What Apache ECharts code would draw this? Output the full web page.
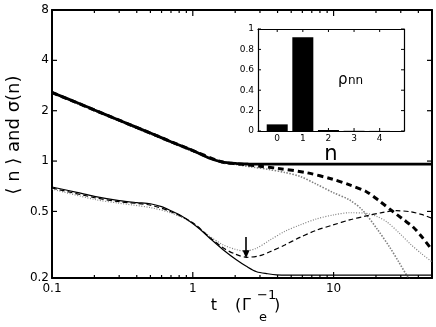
<!DOCTYPE html>
<html>
<head>
<meta charset="utf-8">
<script src="https://cdn.jsdelivr.net/npm/echarts@6/dist/echarts.min.js"></script>
<style>
html,body{margin:0;padding:0;background:#fff;}
#c{width:436px;height:327px;}
</style>
</head>
<body>
<div id="c"></div>
<script>
// ---- main plot data (t in 1/Gamma_e, values on log axis) ----
const tUpSolid  = [0.1, 0.15, 0.2, 0.3, 0.5, 0.7, 1.0, 1.3, 1.6, 2.0, 2.5, 3, 5, 10, 20, 50];
const vUpSolid  = [2.57, 2.24, 2.02, 1.755, 1.47, 1.305, 1.156, 1.043, 0.99, 0.968, 0.96, 0.958, 0.958, 0.958, 0.958, 0.958];

const tUpDash   = [0.1, 0.2, 0.5, 1.0, 1.6, 2.0, 2.5, 3, 4, 6.43, 9.9, 13, 17.1, 21, 26.5, 31, 36.5, 42, 50];
const vUpDash   = [2.57, 2.02, 1.47, 1.156, 0.99, 0.965, 0.948, 0.932, 0.905, 0.852, 0.778, 0.72, 0.656, 0.58, 0.498, 0.45, 0.405, 0.355, 0.295];

const tUpDot    = [0.1, 0.2, 0.5, 1.0, 1.6, 2.0, 2.68, 3.5, 4.5, 5.77, 7.5, 9.9, 13, 16, 20.5, 25, 29, 33, 34.5];
const vUpDot    = [2.55, 2.0, 1.45, 1.14, 0.98, 0.955, 0.92, 0.89, 0.855, 0.81, 0.73, 0.649, 0.585, 0.51, 0.39, 0.306, 0.25, 0.208, 0.198];

const tLowSolid = [0.1, 0.15, 0.2, 0.3, 0.4, 0.5, 0.6, 0.7, 0.81, 0.96, 1.13, 1.32, 1.65, 2.05, 2.4, 2.84, 3.4, 3.94, 6, 10, 20, 50];
const vLowSolid = [0.70, 0.65, 0.615, 0.58, 0.565, 0.556, 0.534, 0.505, 0.476, 0.434, 0.39, 0.346, 0.294, 0.256, 0.235, 0.218, 0.212, 0.209, 0.208, 0.208, 0.208, 0.208];

const tLowDash  = [0.1, 0.2, 0.3, 0.5, 0.7, 1.0, 1.32, 1.65, 2.0, 2.41, 3.0, 3.53, 4.5, 5.77, 7.5, 9.9, 13, 17.1, 22, 28, 35, 42, 50];
const vLowDash  = [0.69, 0.605, 0.572, 0.545, 0.498, 0.428, 0.35, 0.302, 0.278, 0.266, 0.272, 0.287, 0.315, 0.35, 0.385, 0.415, 0.445, 0.47, 0.492, 0.505, 0.498, 0.48, 0.455];

const tLowDot   = [0.1, 0.2, 0.3, 0.5, 0.7, 1.0, 1.32, 1.65, 2.0, 2.3, 2.8, 3.53, 4.5, 5.77, 7.5, 9.9, 13, 17.1, 20.5, 23.8, 29.4, 35, 42, 50];
const vLowDot   = [0.68, 0.59, 0.56, 0.527, 0.49, 0.425, 0.355, 0.315, 0.297, 0.29, 0.3, 0.337, 0.38, 0.415, 0.45, 0.476, 0.491, 0.487, 0.465, 0.434, 0.37, 0.32, 0.28, 0.25];

// arrow annotation (data coordinates)
const arrowT = 2.39;
const arrowV = [0.352, 0.277];

// ticks
const xTickLabels = [0.1, 1, 10];
const xMajorTicks = [0.1, 1, 10];
const xMinorTicks = [0.2,0.3,0.4,0.5,0.6,0.7,0.8,0.9,2,3,4,5,6,7,8,9,20,30,40];
const yTickLabels = [0.2, 0.5, 1, 2, 4, 8];

// ---- inset data ----
const insetN   = [0, 1, 2, 3, 4];
const insetRho = [0.065, 0.92, 0.01, 0.002, 0.001];
const insetYTicks = [0, 0.2, 0.4, 0.6, 0.8, 1];

const FONT = 'DejaVu Sans';
const pairs = (t, v) => t.map((x, i) => [x, v[i]]);

const X_MIN = 0.1, X_MAX = 50, Y_MIN = 0.2, Y_MAX = 8;
const IX_MIN = -0.75, IX_MAX = 4.95;

const mainLine = {show: true, onZero: false, lineStyle: {color: '#000', width: 2}};
const insetLine = {show: true, onZero: false, lineStyle: {color: '#000', width: 1.2}};

function logX(opts) {
  return Object.assign({
    type: 'log', logBase: 10, min: X_MIN, max: X_MAX, gridIndex: 0,
    axisLine: mainLine, splitLine: {show: false}, axisTick: {show: false},
    axisLabel: {show: false}
  }, opts);
}
function logY(opts) {
  return Object.assign({
    type: 'log', logBase: 10, min: Y_MIN, max: Y_MAX, gridIndex: 0,
    axisLine: mainLine, splitLine: {show: false}, axisTick: {show: false},
    axisLabel: {show: false}
  }, opts);
}

// tick marks as thin rect symbols placed through the axes' scales
function tickSeries(xi, yi, data, size, offset) {
  return {type: 'scatter', xAxisIndex: xi, yAxisIndex: yi, data: data, symbol: 'rect',
    symbolSize: size, symbolOffset: offset, clip: false, silent: true, z: 6,
    itemStyle: {color: '#000', opacity: 1}, emphasis: {disabled: true}};
}
const tickSeriesList = [
  tickSeries(0, 0, xMajorTicks.map(t => [t, Y_MIN]), [1.2, 6], [0, -3]),
  tickSeries(0, 0, xMinorTicks.map(t => [t, Y_MIN]), [1.2, 3], [0, -1.5]),
  tickSeries(0, 0, xMajorTicks.map(t => [t, Y_MAX]), [1.2, 6], [0, 3]),
  tickSeries(0, 0, xMinorTicks.map(t => [t, Y_MAX]), [1.2, 3], [0, 1.5]),
  tickSeries(0, 0, yTickLabels.map(v => [X_MIN, v]), [5, 1.2], [2.5, 0]),
  tickSeries(0, 0, yTickLabels.map(v => [X_MAX, v]), [5, 1.2], [-2.5, 0]),
  tickSeries(2, 2, insetN.map(n => [n, 0]), [1, 3], [0, -1.5]),
  tickSeries(2, 2, insetN.map(n => [n, 1]), [1, 3], [0, 1.5]),
  tickSeries(2, 2, insetYTicks.map(v => [IX_MIN, v]), [3, 1], [1.5, 0]),
  tickSeries(2, 2, insetYTicks.map(v => [IX_MAX, v]), [3, 1], [-1.5, 0])
];

const option = {
  animation: false,
  backgroundColor: '#fff',
  grid: [
    {left: 52, right: 4, top: 10, bottom: 49},
    {left: 258, top: 29, width: 146, height: 102, show: true, borderWidth: 0, backgroundColor: '#fff'}
  ],
  xAxis: [
    logX({position: 'bottom',
      axisLabel: {show: true, customValues: xTickLabels, margin: 5, fontSize: 12, color: '#000', fontFamily: FONT,
        formatter: v => String(Math.round(v * 10) / 10)}}),
    logX({position: 'top'}),
    {type: 'value', gridIndex: 1, min: IX_MIN, max: IX_MAX, position: 'bottom',
      axisLine: insetLine, splitLine: {show: false}, axisTick: {show: false},
      axisLabel: {customValues: insetN, margin: 3, fontSize: 9, color: '#000', fontFamily: FONT},
      name: 'n', nameLocation: 'middle', nameGap: 2,
      nameTextStyle: {fontSize: 21, color: '#000', fontFamily: FONT}},
    {type: 'value', gridIndex: 1, min: IX_MIN, max: IX_MAX, position: 'top',
      axisLine: insetLine, splitLine: {show: false}, axisTick: {show: false},
      axisLabel: {show: false}}
  ],
  yAxis: [
    logY({position: 'left',
      axisLabel: {show: true, customValues: yTickLabels, margin: 3, fontSize: 12, color: '#000', fontFamily: FONT,
        formatter: v => String(Math.round(v * 10) / 10)}}),
    logY({position: 'right'}),
    {type: 'value', gridIndex: 1, min: 0, max: 1, interval: 0.2, position: 'left',
      axisLine: insetLine, splitLine: {show: false}, axisTick: {show: false},
      axisLabel: {margin: 4, fontSize: 9, color: '#000', fontFamily: FONT,
        formatter: v => String(Math.round(v * 10) / 10)}},
    {type: 'value', gridIndex: 1, min: 0, max: 1, interval: 0.2, position: 'right',
      axisLine: insetLine, splitLine: {show: false}, axisTick: {show: false},
      axisLabel: {show: false}}
  ],
  series: [
    {type: 'line', name: 'upDot', xAxisIndex: 0, yAxisIndex: 0, data: pairs(tUpDot, vUpDot), smooth: 0.3,
      showSymbol: false, clip: true, lineStyle: {color: '#808080', width: 1.6, type: [1.5, 1.5]}},
    {type: 'line', name: 'upDash', xAxisIndex: 0, yAxisIndex: 0, data: pairs(tUpDash, vUpDash), smooth: 0.3,
      showSymbol: false, clip: true, lineStyle: {color: '#000', width: 3, type: [6, 4]}},
    {type: 'line', name: 'upSolid', xAxisIndex: 0, yAxisIndex: 0, data: pairs(tUpSolid, vUpSolid), smooth: 0.3,
      showSymbol: false, clip: true, lineStyle: {color: '#000', width: 2.8}},
    {type: 'line', name: 'lowDot', xAxisIndex: 0, yAxisIndex: 0, data: pairs(tLowDot, vLowDot), smooth: 0.3,
      showSymbol: false, clip: true, lineStyle: {color: '#808080', width: 1.2, type: [1, 1.6]}},
    {type: 'line', name: 'lowDash', xAxisIndex: 0, yAxisIndex: 0, data: pairs(tLowDash, vLowDash), smooth: 0.3,
      showSymbol: false, clip: true, lineStyle: {color: '#000', width: 1.2, type: [5, 3]},
      markLine: {silent: true, symbol: ['none', 'triangle'], symbolSize: [7, 8], animation: false,
        label: {show: false}, lineStyle: {color: '#000', width: 1.6, type: 'solid'},
        data: [[{coord: [arrowT, arrowV[0]]}, {coord: [arrowT, arrowV[1]]}]]}},
    {type: 'line', name: 'lowSolid', xAxisIndex: 0, yAxisIndex: 0, data: pairs(tLowSolid, vLowSolid), smooth: 0.3,
      showSymbol: false, clip: true, lineStyle: {color: '#000', width: 1.2}},
    {type: 'bar', name: 'rho', xAxisIndex: 2, yAxisIndex: 2, data: pairs(insetN, insetRho), barWidth: 21,
      itemStyle: {color: '#000'}, z: 5}
  ].concat(tickSeriesList),
  graphic: [
    {type: 'text', x: 14, y: 135, rotation: Math.PI / 2,
      style: {text: '\u27E8 n \u27E9 and \u03C3(n)', font: '18px "DejaVu Sans"', fill: '#000', align: 'center', verticalAlign: 'middle'}},
    {type: 'text', x: 214, y: 306, style: {text: 't', font: '16px "DejaVu Sans"', fill: '#000', align: 'center', verticalAlign: 'middle'}},
    {type: 'text', x: 235, y: 306, style: {text: '(', font: '16px "DejaVu Sans"', fill: '#000', align: 'left', verticalAlign: 'middle'}},
    {type: 'text', x: 242, y: 306, style: {text: '\u0393', font: '16px "DejaVu Sans"', fill: '#000', align: 'left', verticalAlign: 'middle'}},
    {type: 'text', x: 257, y: 296, style: {text: '\u22121', font: '13px "DejaVu Sans"', fill: '#000', align: 'left', verticalAlign: 'middle'}},
    {type: 'text', x: 259, y: 318, style: {text: 'e', font: '13px "DejaVu Sans"', fill: '#000', align: 'left', verticalAlign: 'middle'}},
    {type: 'text', x: 274, y: 306, style: {text: ')', font: '16px "DejaVu Sans"', fill: '#000', align: 'left', verticalAlign: 'middle'}},
    {type: 'text', x: 338, y: 80, z: 10, style: {text: '\u03C1', font: '15px "DejaVu Sans"', fill: '#000', align: 'left', verticalAlign: 'middle'}},
    {type: 'text', x: 348, y: 81, z: 10, style: {text: 'nn', font: '12px "DejaVu Sans"', fill: '#000', align: 'left', verticalAlign: 'middle'}}
  ]
};

const chart = echarts.init(document.getElementById('c'), null, {renderer: 'canvas'});
chart.setOption(option);
</script>
</body>
</html>
